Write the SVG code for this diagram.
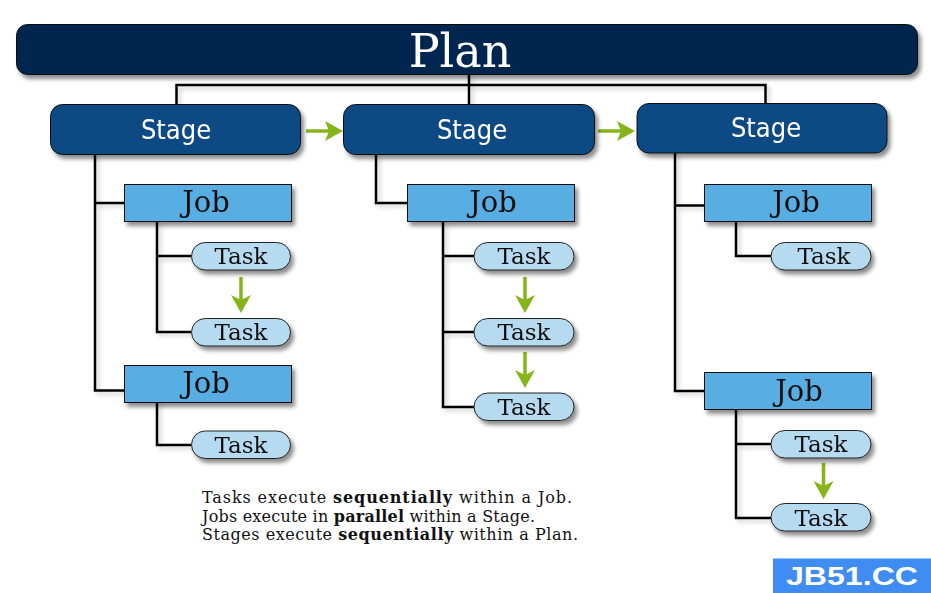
<svg xmlns="http://www.w3.org/2000/svg" width="931" height="593" viewBox="0 0 931 593">
<style>
.plan{fill:#03274f;stroke:#111;stroke-width:1}
.stage{fill:#114a82;stroke:#111;stroke-width:1}
.job{fill:#59aee3;stroke:#111;stroke-width:1}
.task{fill:#b6daf0;stroke:#222;stroke-width:1}
.ptxt{font-family:"DejaVu Serif",serif;font-size:46px;fill:#fff;text-anchor:middle}
.stxt{font-family:"DejaVu Sans Condensed","DejaVu Sans",sans-serif;font-size:27px;fill:#fff;text-anchor:middle}
.jtxt{font-family:"DejaVu Serif",serif;font-size:29px;fill:#111;text-anchor:middle}
.ttxt{font-family:"DejaVu Serif",serif;font-size:23px;fill:#111;text-anchor:middle}
.note{font-family:"DejaVu Serif",serif;font-size:16px;fill:#111}
.note tspan.b{font-weight:bold}
.ln{fill:none;stroke:#000;stroke-width:2.5}
.ga{stroke:#86b41b;stroke-width:3.5;fill:none}
.gh{fill:#86b41b}
</style>
<defs>
<filter id="sh" x="-10%" y="-20%" width="130%" height="160%">
<feDropShadow dx="3" dy="4" stdDeviation="2" flood-color="#000" flood-opacity="0.45"/>
</filter>
<filter id="lsh" x="-10%" y="-10%" width="130%" height="130%">
<feDropShadow dx="3" dy="3" stdDeviation="2" flood-color="#000" flood-opacity="0.2"/>
</filter>
</defs>

<g id="connectors">
<g filter="url(#lsh)">
<path class="ln" d="M469 75 V85 M176.5 104 V85 H765.5 V103 M469 85 V104"/>
<path class="ln" d="M95 154 V390.5 H124 M95 203 H124"/>
<path class="ln" d="M157 222 V332 H191 M157 256 H191"/>
<path class="ln" d="M157 402 V445 H191"/>
<path class="ln" d="M376 154 V203 H407"/>
<path class="ln" d="M443 222 V407 H474 M443 256 H474 M443 332 H474"/>
<path class="ln" d="M675 153 V391 H704 M675 205.5 H704"/>
<path class="ln" d="M736 222 V256 H771"/>
<path class="ln" d="M736 409 V518 H771 M736 444 H771"/>
</g>
<g id="seq-arrows">
<path class="ga" d="M306 131 H330"/><path class="gh" d="M343 131 L325 121 L329 131 L325 141 Z"/>
<path class="ga" d="M598 131 H622"/><path class="gh" d="M635 131 L617 121 L621 131 L617 141 Z"/>
<path class="ga" d="M241 277 V300"/><path class="gh" d="M241 313 L231 295 L241 300 L251 295 Z"/>
<path class="ga" d="M525 277 V300"/><path class="gh" d="M525 313 L515 295 L525 300 L535 295 Z"/>
<path class="ga" d="M525 352 V375"/><path class="gh" d="M525 388 L515 370 L525 375 L535 370 Z"/>
<path class="ga" d="M823.5 463 V486"/><path class="gh" d="M823.5 499 L813.5 481 L823.5 486 L833.5 481 Z"/>
</g>
</g>

<g id="plan" filter="url(#sh)">
<rect class="plan" x="16.5" y="24.5" width="901" height="50" rx="11"/>
<text class="ptxt" x="460" y="67">Plan</text>
</g>

<g id="stage1" filter="url(#sh)">
<rect class="stage" x="50.5" y="104.5" width="250" height="50" rx="12"/>
<text class="stxt" x="176" y="139">Stage</text>
</g>
<g id="stage2" filter="url(#sh)">
<rect class="stage" x="343.5" y="104.5" width="251" height="50" rx="12"/>
<text class="stxt" x="472" y="139">Stage</text>
</g>
<g id="stage3" filter="url(#sh)">
<rect class="stage" x="637" y="103.5" width="250" height="49.5" rx="12"/>
<text class="stxt" x="766" y="137">Stage</text>
</g>

<g id="job1-1" filter="url(#sh)">
<rect class="job" x="124.5" y="184.5" width="167" height="37"/>
<text class="jtxt" x="206" y="212">Job</text>
</g>
<g id="task1-1a" filter="url(#sh)">
<rect class="task" x="191.5" y="242.5" width="99" height="27.5" rx="13.75"/>
<text class="ttxt" x="241" y="264">Task</text>
</g>
<g id="task1-1b" filter="url(#sh)">
<rect class="task" x="191.5" y="318.5" width="99" height="27.5" rx="13.75"/>
<text class="ttxt" x="241" y="340">Task</text>
</g>
<g id="job1-2" filter="url(#sh)">
<rect class="job" x="124.5" y="365.5" width="167" height="37"/>
<text class="jtxt" x="206" y="393">Job</text>
</g>
<g id="task1-2a" filter="url(#sh)">
<rect class="task" x="191.5" y="431" width="99" height="27.5" rx="13.75"/>
<text class="ttxt" x="241" y="453">Task</text>
</g>

<g id="job2-1" filter="url(#sh)">
<rect class="job" x="407.5" y="184.5" width="167" height="37"/>
<text class="jtxt" x="493" y="212">Job</text>
</g>
<g id="task2-1a" filter="url(#sh)">
<rect class="task" x="474" y="242.5" width="100" height="27.5" rx="13.75"/>
<text class="ttxt" x="524" y="264">Task</text>
</g>
<g id="task2-1b" filter="url(#sh)">
<rect class="task" x="474" y="318.5" width="100" height="27.5" rx="13.75"/>
<text class="ttxt" x="524" y="340">Task</text>
</g>
<g id="task2-1c" filter="url(#sh)">
<rect class="task" x="474" y="393" width="100" height="27.5" rx="13.75"/>
<text class="ttxt" x="524" y="415">Task</text>
</g>

<g id="job3-1" filter="url(#sh)">
<rect class="job" x="704.5" y="184.5" width="167" height="37"/>
<text class="jtxt" x="796" y="212">Job</text>
</g>
<g id="task3-1a" filter="url(#sh)">
<rect class="task" x="771" y="242.5" width="100" height="27.5" rx="13.75"/>
<text class="ttxt" x="824" y="264">Task</text>
</g>
<g id="job3-2" filter="url(#sh)">
<rect class="job" x="704.5" y="372.5" width="167" height="37"/>
<text class="jtxt" x="799" y="401">Job</text>
</g>
<g id="task3-2a" filter="url(#sh)">
<rect class="task" x="771" y="430.5" width="100" height="27.5" rx="13.75"/>
<text class="ttxt" x="821" y="452">Task</text>
</g>
<g id="task3-2b" filter="url(#sh)">
<rect class="task" x="771" y="503.5" width="100" height="27.5" rx="13.75"/>
<text class="ttxt" x="821" y="526">Task</text>
</g>

<g id="notes">
<text class="note" x="202" y="503" textLength="370" lengthAdjust="spacing">Tasks execute <tspan class="b">sequentially</tspan> within a Job.</text>
<text class="note" x="202" y="521.5" textLength="333" lengthAdjust="spacing">Jobs execute in <tspan class="b">parallel</tspan> within a Stage.</text>
<text class="note" x="202" y="540" textLength="376" lengthAdjust="spacing">Stages execute <tspan class="b">sequentially</tspan> within a Plan.</text>
</g>

<g id="watermark">
<rect x="773" y="558.5" width="158" height="34.5" fill="#3f8cf2"/>
<text x="852" y="585" font-family="'Liberation Sans',Arial,sans-serif" font-weight="bold" font-size="25" fill="#fff" text-anchor="middle" textLength="132" lengthAdjust="spacingAndGlyphs">JB51.CC</text>
</g>
</svg>
